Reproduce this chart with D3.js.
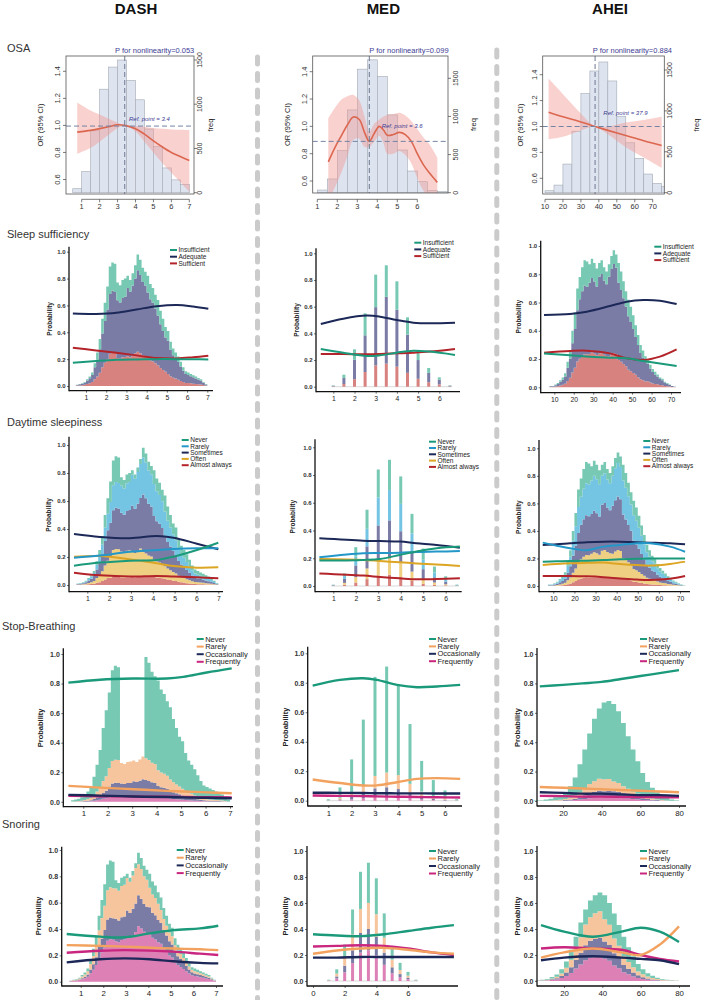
<!DOCTYPE html>
<html><head><meta charset="utf-8">
<script src="https://cdn.jsdelivr.net/npm/d3@7/dist/d3.min.js"></script>
<style>html,body{margin:0;padding:0;background:#fff;} svg text{font-family:"Liberation Sans",Arial,Helvetica,sans-serif;}</style>
</head><body>
<svg id="chart" width="709" height="1000"></svg>
<script>
// ================= DATA =================
const diets = ["DASH","MED","AHEI"];
const rowTitles = ["OSA","Sleep sufficiency","Daytime sleepiness","Stop-Breathing","Snoring"];

// ---- OSA (restricted cubic spline OR + frequency histogram) ----
const osaTicksOR = [0.6,0.8,1.0,1.2,1.4];
const osaTicksFreq = [0,500,1000,1500];
const osaBinDASH = {start:0.5, width:0.5};
const osaFreqDASH = [45,240,700,1170,1420,1500,1270,1050,720,520,280,145,95];
const osaBinMED = {start:1, width:0.5};
const osaFreqMED = [35,180,551,1085,1620,1742,1523,1020,560,284,144,26,13];
const osaBinAHEI = {start:10, width:5};
const osaFreqAHEI = [24,93,350,752,1211,1488,1598,1366,935,610,419,228,114,73];

const osaDASHx  = [0.75,1.5,2.0,2.5,3.0,3.4,4.0,4.5,5.0,5.5,6.0,6.5,7.0];
const osaDASHor = [0.95,0.963,0.976,0.99,1.005,1.0,0.976,0.935,0.885,0.84,0.80,0.77,0.74];
const osaDASHhi = [1.17,1.11,1.08,1.05,1.02,1.0,0.995,0.99,0.98,0.975,0.97,0.967,0.965];
const osaDASHlo = [0.79,0.835,0.88,0.93,0.98,1.0,0.955,0.88,0.80,0.72,0.65,0.58,0.51];

const osaMEDx  = [1.55,1.9,2.2,2.5,2.8,3.1,3.35,3.6,3.85,4.1,4.3,4.5,4.8,5.1,5.4,5.7,6.0,6.3,6.6,7.0];
const osaMEDor = [0.74,0.85,0.93,1.01,1.068,1.05,0.96,0.89,0.95,1.0,0.975,0.935,0.94,0.956,0.94,0.89,0.80,0.72,0.66,0.59];
const osaMEDhi = [1.06,1.14,1.195,1.22,1.23,1.19,1.08,0.96,1.02,1.05,1.07,1.085,1.09,1.1,1.08,1.04,0.98,0.92,0.87,0.77];
const osaMEDlo = [0.45,0.56,0.66,0.78,0.90,0.91,0.85,0.85,0.89,0.93,0.88,0.80,0.80,0.82,0.79,0.73,0.62,0.53,0.48,0.45];

const osaAHEIx  = [12,20,30,37.9,45,55,65,75];
const osaAHEIor = [1.11,1.075,1.035,1.0,0.97,0.93,0.89,0.854];
const osaAHEIhi = [1.37,1.25,1.1,1.0,1.0,1.03,1.05,1.075];
const osaAHEIlo = [0.90,0.92,0.97,1.0,0.94,0.84,0.76,0.68];

const osaRef     = {DASH:3.4, MED:3.6, AHEI:37.9};
const osaRefLine = {DASH:0.995, MED:0.89, AHEI:1.0};
const osaP       = {DASH:"0.053", MED:"0.099", AHEI:"0.884"};

// ---- score distributions (stacked histograms, scaled to max 1) ----
const histDASHbin = {start:0.5, width:0.125, group:4};
const histDASH = [0.01,0.015,0.02,0.03,0.05,0.07,0.10,0.17,0.25,0.35,0.50,0.62,0.74,0.89,0.92,0.91,0.77,0.75,0.79,0.80,0.82,0.79,0.84,0.90,0.98,0.94,0.88,0.85,0.82,0.76,0.73,0.68,0.64,0.56,0.50,0.44,0.41,0.33,0.28,0.25,0.22,0.18,0.14,0.11,0.10,0.09,0.08,0.07,0.06,0.05,0.03,0.015];
const histAHEIbin = {start:7.5, width:1.25, group:4};
const histAHEI = [0.01,0.01,0.02,0.03,0.05,0.07,0.10,0.18,0.26,0.40,0.53,0.70,0.78,0.85,0.90,0.89,0.87,0.91,0.88,0.84,0.88,0.90,0.85,0.82,0.87,0.93,0.97,0.94,0.88,0.82,0.75,0.68,0.62,0.57,0.51,0.44,0.37,0.30,0.26,0.22,0.20,0.16,0.13,0.11,0.09,0.07,0.06,0.04,0.03,0.02,0.01,0.005];
const histAHEI2bin = {start:5, width:2.5, group:2};
const histAHEIstop = [0.003,0.005,0.01,0.015,0.025,0.04,0.06,0.10,0.16,0.25,0.35,0.46,0.56,0.63,0.67,0.68,0.66,0.61,0.53,0.44,0.35,0.27,0.19,0.13,0.09,0.06,0.035,0.02,0.01,0.005];
const histAHEIsnore = [0.005,0.01,0.015,0.03,0.05,0.09,0.15,0.24,0.34,0.45,0.55,0.62,0.66,0.68,0.66,0.60,0.52,0.43,0.34,0.26,0.19,0.13,0.09,0.06,0.04,0.025,0.015,0.01,0.005,0.003];
const medX = [1,1.5,2,2.5,3,3.5,4,4.5,5,5.5,6,6.5];
const histMED = [0.01,0.09,0.28,0.55,0.84,0.91,0.79,0.52,0.27,0.14,0.07,0.01];

// ---- category shares per group of bins ----
const shareSleepDASH = {
  Sufficient:  [0.30,0.30,0.28,0.27,0.27,0.27,0.26,0.25,0.24,0.22,0.21,0.22,0.23],
  Adequate:    [0.52,0.52,0.50,0.50,0.56,0.62,0.62,0.60,0.58,0.60,0.60,0.59,0.57],
  Insufficient:[0.18,0.18,0.22,0.23,0.17,0.11,0.12,0.15,0.18,0.18,0.19,0.19,0.20]};
const shareDayDASH = {
  "Almost always":[0.09,0.09,0.08,0.07,0.07,0.07,0.07,0.07,0.07,0.07,0.06,0.06,0.06],
  Often:    [0.20,0.20,0.20,0.21,0.24,0.22,0.17,0.15,0.14,0.13,0.13,0.13,0.13],
  Sometimes:[0.36,0.36,0.35,0.32,0.36,0.40,0.42,0.38,0.34,0.32,0.30,0.28,0.26],
  Rarely:   [0.20,0.20,0.19,0.20,0.25,0.27,0.27,0.28,0.27,0.26,0.26,0.26,0.26],
  Never:    [0.15,0.15,0.18,0.20,0.08,0.04,0.07,0.12,0.18,0.22,0.25,0.27,0.29]};
const shareStopDASH = {
  Frequently:  [0.04,0.04,0.04,0.04,0.04,0.04,0.04,0.04,0.035,0.035,0.035,0.03,0.03],
  Occasionally:[0.06,0.07,0.08,0.10,0.12,0.13,0.11,0.09,0.08,0.07,0.06,0.05,0.05],
  Rarely:      [0.14,0.15,0.16,0.17,0.18,0.17,0.15,0.13,0.12,0.11,0.10,0.10,0.10],
  Never:       [0.76,0.74,0.72,0.69,0,0,0.70,0.74,0.765,0.785,0.805,0.82,0.82]};
const shareSnoreDASH = {
  Frequently:  [0.40,0.38,0.36,0.35,0.40,0.42,0.43,0.44,0.45,0.45,0.44,0.43,0.42],
  Occasionally:[0.15,0.16,0.17,0.18,0.22,0.24,0.24,0.25,0.25,0.24,0.22,0.20,0.18],
  Rarely:      [0.25,0.25,0.25,0.25,0.30,0.30,0.24,0.18,0.15,0.15,0.16,0.17,0.18],
  Never:       [0.20,0.21,0.22,0.22,0.08,0.04,0.09,0.13,0.15,0.16,0.18,0.20,0.22]};
const shareSleepMED = {
  Sufficient:  [0.25,0.22,0.20,0.20,0.19,0.19,0.19,0.20,0.22,0.24,0.25,0.25],
  Adequate:    [0.45,0.50,0.52,0.50,0.52,0.55,0.54,0.55,0.52,0.50,0.50,0.50],
  Insufficient:[0.30,0.28,0.28,0.30,0.29,0.26,0.27,0.25,0.26,0.26,0.25,0.25]};
const shareDayMED = {
  "Almost always":[0.10,0.10,0.09,0.09,0.09,0.09,0.08,0.07,0.06,0.06,0.06,0.06],
  Often:    [0.18,0.15,0.14,0.14,0.13,0.13,0.13,0.13,0.12,0.12,0.12,0.12],
  Sometimes:[0.33,0.32,0.30,0.29,0.30,0.30,0.29,0.28,0.27,0.27,0.27,0.27],
  Rarely:   [0.20,0.22,0.23,0.23,0.24,0.24,0.25,0.25,0.25,0.25,0.25,0.25],
  Never:    [0.19,0.21,0.24,0.25,0.24,0.24,0.25,0.27,0.30,0.30,0.30,0.30]};
const shareStopMED = {
  Frequently:  [0.04,0.04,0.03,0.03,0.03,0.03,0.03,0.03,0.03,0.03,0.03,0.03],
  Occasionally:[0.06,0.06,0.06,0.06,0.07,0.07,0.07,0.06,0.06,0.06,0.06,0.06],
  Rarely:      [0.12,0.12,0.11,0.10,0.10,0.11,0.12,0.13,0.14,0.14,0.14,0.14],
  Never:       [0.78,0.78,0.80,0.81,0.80,0.79,0.78,0.78,0.77,0.77,0.77,0.77]};
const shareSnoreMED = {
  Frequently:  [0.22,0.22,0.24,0.25,0.26,0.26,0.25,0.24,0.22,0.21,0.20,0.20],
  Occasionally:[0.17,0.17,0.18,0.18,0.18,0.18,0.18,0.18,0.17,0.17,0.17,0.17],
  Rarely:      [0.24,0.24,0.23,0.22,0.22,0.22,0.22,0.22,0.22,0.22,0.22,0.22],
  Never:       [0.37,0.37,0.35,0.35,0.34,0.34,0.35,0.36,0.39,0.40,0.41,0.41]};
const shareSleepAHEI = {
  Sufficient:  [0.25,0.25,0.26,0.26,0.27,0.27,0.25,0.22,0.20,0.19,0.21,0.24,0.26],
  Adequate:    [0.51,0.52,0.52,0.54,0.58,0.62,0.65,0.62,0.61,0.62,0.62,0.60,0.59],
  Insufficient:[0.24,0.23,0.22,0.20,0.15,0.11,0.10,0.16,0.19,0.19,0.17,0.16,0.15]};
const shareDayAHEI = {
  "Almost always":[0.07,0.07,0.07,0.07,0.07,0.07,0.06,0.06,0.05,0.05,0.05,0.06,0.07],
  Often:    [0.15,0.16,0.17,0.18,0.20,0.22,0.21,0.17,0.15,0.15,0.15,0.16,0.17],
  Sometimes:[0.30,0.30,0.31,0.32,0.33,0.38,0.40,0.36,0.33,0.31,0.31,0.30,0.30],
  Rarely:   [0.31,0.29,0.27,0.26,0.28,0.24,0.25,0.28,0.30,0.31,0.30,0.28,0.26],
  Never:    [0.17,0.18,0.18,0.17,0.12,0.09,0.08,0.13,0.17,0.18,0.19,0.20,0.20]};
const shareStopAHEI = {
  Frequently:  [0.04,0.04,0.04,0.04,0.04,0.04,0.04,0.04,0.04,0.04,0.04,0.04,0.04,0.04,0.04],
  Occasionally:[0.06,0.06,0.06,0.06,0.06,0.07,0.07,0.06,0.06,0.06,0.06,0.06,0.06,0.06,0.06],
  Rarely:      [0.10,0.10,0.11,0.12,0.13,0.14,0.13,0.12,0.10,0.09,0.08,0.08,0.08,0.08,0.08],
  Never:       [0.80,0.80,0.79,0.78,0.77,0.75,0.76,0.78,0.80,0.81,0.82,0.82,0.82,0.82,0.82]};
const shareSnoreAHEI = {
  Frequently:  [0.25,0.25,0.25,0.26,0.28,0.29,0.28,0.26,0.23,0.20,0.18,0.17,0.16,0.15,0.15],
  Occasionally:[0.16,0.17,0.18,0.18,0.20,0.21,0.21,0.20,0.18,0.16,0.16,0.15,0.14,0.13,0.13],
  Rarely:      [0.18,0.20,0.22,0.24,0.27,0.29,0.30,0.26,0.22,0.20,0.22,0.25,0.30,0.36,0.40],
  Never:       [0.41,0.38,0.35,0.32,0.25,0.21,0.21,0.28,0.37,0.44,0.44,0.43,0.40,0.36,0.32]};

// ---- smoothed predicted probability curves ----
const sleepDASHx = [0.35,1.5,2.5,3.5,4.5,5.5,6.3,7.05];
const sleepDASH = {Insufficient:[0.173,0.186,0.195,0.198,0.2,0.2,0.199,0.198],
  Adequate:[0.54,0.537,0.545,0.57,0.594,0.603,0.592,0.575],
  Sufficient:[0.284,0.265,0.247,0.228,0.208,0.205,0.214,0.225]};
const dayDASHx = [0.39,1.58,2.96,4.18,4.95,6.02,7.0];
const dayDASH = {Never:[0.138,0.16,0.174,0.179,0.202,0.25,0.302],
  Rarely:[0.195,0.21,0.238,0.25,0.257,0.262,0.262],
  Sometimes:[0.364,0.343,0.334,0.35,0.338,0.295,0.255],
  Often:[0.202,0.207,0.183,0.155,0.136,0.124,0.126],
  "Almost always":[0.088,0.069,0.06,0.064,0.06,0.055,0.048]};
const stopDASHx = [0.39,1.68,3.05,4.41,5.09,6.05,7.07];
const stopDASH = {Never:[0.806,0.826,0.834,0.834,0.845,0.875,0.903],
  Rarely:[0.108,0.096,0.085,0.074,0.07,0.064,0.058],
  Occasionally:[0.047,0.042,0.036,0.032,0.03,0.027,0.024],
  Frequently:[0.04,0.038,0.036,0.034,0.033,0.031,0.03]};
const snoreDASHx = [0.38,1.86,2.96,4.07,5.1,6.29,7.1];
const snoreDASH = {Never:[0.362,0.342,0.337,0.367,0.392,0.405,0.425],
  Rarely:[0.278,0.272,0.266,0.258,0.252,0.246,0.24],
  Occasionally:[0.147,0.17,0.177,0.17,0.155,0.143,0.139],
  Frequently:[0.22,0.235,0.24,0.236,0.228,0.213,0.203]};

const sleepMEDx = [0.41,1.47,2.58,3.2,3.99,4.77,5.56,6.74];
const sleepMED = {Insufficient:[0.283,0.255,0.23,0.235,0.255,0.27,0.263,0.238],
  Adequate:[0.47,0.51,0.533,0.525,0.5,0.48,0.475,0.48],
  Sufficient:[0.245,0.245,0.243,0.245,0.25,0.255,0.263,0.283]};
const dayMEDx = [0.38,2.33,3.08,3.96,4.7,5.6,6.63];
const dayMED = {Never:[0.183,0.188,0.195,0.224,0.248,0.272,0.284],
  Rarely:[0.207,0.236,0.238,0.24,0.245,0.248,0.252],
  Sometimes:[0.344,0.327,0.324,0.32,0.308,0.296,0.276],
  Often:[0.195,0.188,0.18,0.171,0.163,0.155,0.144],
  "Almost always":[0.091,0.075,0.065,0.055,0.048,0.05,0.055]};
const stopMEDx = [0.33,1.5,2.5,3.08,3.94,4.8,5.65,6.65];
const stopMED = {Never:[0.781,0.82,0.831,0.82,0.786,0.77,0.775,0.786],
  Rarely:[0.144,0.12,0.103,0.104,0.125,0.148,0.153,0.148],
  Occasionally:[0.054,0.053,0.052,0.051,0.05,0.05,0.049,0.049],
  Frequently:[0.035,0.033,0.031,0.029,0.027,0.025,0.023,0.022]};
const snoreMEDx = [0.0,1.5,3.0,4.5,6.0,7.5,8.9];
const snoreMED = {Never:[0.36,0.35,0.345,0.36,0.385,0.41,0.43],
  Rarely:[0.21,0.235,0.25,0.255,0.24,0.22,0.21],
  Occasionally:[0.18,0.18,0.185,0.185,0.185,0.185,0.185],
  Frequently:[0.265,0.27,0.275,0.27,0.25,0.22,0.20]};

const sleepAHEIx = [4.7,18.1,26.7,38.6,47.2,55.8,64.3,72.9];
const sleepAHEI = {Insufficient:[0.24,0.227,0.218,0.21,0.205,0.186,0.169,0.15],
  Adequate:[0.512,0.519,0.535,0.575,0.606,0.618,0.613,0.589],
  Sufficient:[0.245,0.257,0.259,0.24,0.205,0.193,0.217,0.268]};
const dayAHEIx = [5,11.6,17.9,25.8,33.7,41.6,49.5,55.8,65.3,72.4];
const dayAHEI = {Never:[0.177,0.179,0.181,0.184,0.188,0.194,0.197,0.2,0.2,0.2],
  Rarely:[0.315,0.293,0.274,0.26,0.286,0.298,0.31,0.31,0.286,0.249],
  Sometimes:[0.298,0.303,0.31,0.318,0.322,0.322,0.318,0.315,0.31,0.303],
  Often:[0.153,0.16,0.165,0.168,0.17,0.16,0.152,0.148,0.16,0.177],
  "Almost always":[0.073,0.073,0.073,0.07,0.064,0.055,0.047,0.044,0.053,0.073]};
const stopAHEIx = [8,20,30,40,50,60,70,80];
const stopAHEI = {Never:[0.78,0.79,0.80,0.81,0.83,0.85,0.87,0.89],
  Rarely:[0.095,0.09,0.085,0.08,0.075,0.07,0.065,0.06],
  Occasionally:[0.06,0.055,0.05,0.05,0.045,0.04,0.04,0.035],
  Frequently:[0.035,0.033,0.03,0.03,0.028,0.027,0.026,0.025]};
const snoreAHEIx = [8,20,35,50,60,70,80];
const snoreAHEI = {Never:[0.43,0.38,0.34,0.38,0.41,0.38,0.30],
  Rarely:[0.18,0.22,0.25,0.22,0.20,0.28,0.42],
  Occasionally:[0.16,0.18,0.19,0.18,0.17,0.16,0.13],
  Frequently:[0.25,0.26,0.25,0.24,0.20,0.17,0.15]};

const probTicks = [0,0.2,0.4,0.6,0.8,1.0];
const catsSleep = ["Insufficient","Adequate","Sufficient"];
const catsDay = ["Never","Rarely","Sometimes","Often","Almost always"];
const catsSB = ["Never","Rarely","Occasionally","Frequently"];

// ================= STYLE / LAYOUT =================
const lineSleep = {Insufficient:"#1b9a7b", Adequate:"#1c2857", Sufficient:"#b3242a"};
const fillSleep = {Insufficient:"#78c9b3", Adequate:"#7b7ca6", Sufficient:"#d8827f"};
const lineDay = {Never:"#1b9a7b", Rarely:"#2497c9", Sometimes:"#1c2857", Often:"#dca523", "Almost always":"#b3242a"};
const fillDay = {Never:"#78c9b3", Rarely:"#74c4e3", Sometimes:"#7b7ca6", Often:"#efcf82", "Almost always":"#d8827f"};
const lineSB = {Never:"#1b9a7b", Rarely:"#f2a25e", Occasionally:"#1c2857", Frequently:"#c9267f"};
const fillSB = {Never:"#78c9b3", Rarely:"#f6c59d", Occasionally:"#7b7ca6", Frequently:"#dc80b6"};

const svg = d3.select("#chart");

function txt(g, x, y, s, o) {
  o = o || {};
  const t = g.append("text").attr("x", x).attr("y", y).text(s)
    .attr("font-size", o.fs || 8).attr("fill", o.fill || "#222")
    .attr("text-anchor", o.anchor || "start");
  if (o.weight) t.attr("font-weight", o.weight);
  if (o.style) t.attr("font-style", o.style);
  if (o.rot) t.attr("transform", `rotate(${o.rot},${x},${y})`);
  return t;
}

// titles
const titleX = {DASH:136, MED:383.3, AHEI:610};
diets.forEach(d => txt(svg, titleX[d], 13.5, d, {fs:15, weight:"bold", anchor:"middle", fill:"#111"}));
const rowTitlePos = [[7,52],[7,238],[7,426],[2,630],[2,828]];
rowTitles.forEach((t,i) => txt(svg, rowTitlePos[i][0], rowTitlePos[i][1], t, {fs:11, fill:"#333"}));

// separators
[[257.5,57],[496.8,50]].forEach(s => svg.append("line")
  .attr("x1", s[0]).attr("x2", s[0]).attr("y1", s[1]).attr("y2", 1000)
  .attr("stroke", "#cbcbcb").attr("stroke-width", 5)
  .attr("stroke-dasharray", "7,9.5").attr("stroke-linecap", "round"));

// ================= OSA PANELS =================
const osaGeo = {
  DASH:{box:[66,194,56,194], xCal:[1,81.7,7,189.3], orCal:[0.6,179.5,1.4,71.3], frCal:[0,192.7,1500,60],
        xTicks:[1,2,3,4,5,6,7], axisY:199.3, pX:115, refTxt:[129,121], frLabX:202, frTitleX:213, orTitleX:43},
  MED:{box:[312.7,448,56,193], xCal:[1,317.3,6,417.3], orCal:[0.6,181,1.4,71.7], frCal:[0,192.7,1500,78.3],
        xTicks:[1,2,3,4,5,6], axisY:199.3, pX:369.3, refTxt:[381.7,128], frLabX:458, frTitleX:476, orTitleX:290},
  AHEI:{box:[542.7,664.3,56,194], xCal:[10,545,70,652.7], orCal:[0.6,178.3,1.4,74.7], frCal:[0,192.7,1500,70],
        xTicks:[10,20,30,40,50,60,70], axisY:199.3, pX:592.7, refTxt:[603.3,115], frLabX:672, frTitleX:699, orTitleX:523}
};
const osaData = {
  DASH:{bin:osaBinDASH, freq:osaFreqDASH, x:osaDASHx, or:osaDASHor, lo:osaDASHlo, hi:osaDASHhi},
  MED:{bin:osaBinMED, freq:osaFreqMED, x:osaMEDx, or:osaMEDor, lo:osaMEDlo, hi:osaMEDhi},
  AHEI:{bin:osaBinAHEI, freq:osaFreqAHEI, x:osaAHEIx, or:osaAHEIor, lo:osaAHEIlo, hi:osaAHEIhi}
};

function drawOSA(d) {
  const geo = osaGeo[d], data = osaData[d];
  const g = svg.append("g");
  const [bl, br, bt, bb] = geo.box;
  const x = d3.scaleLinear().domain([geo.xCal[0], geo.xCal[2]]).range([geo.xCal[1], geo.xCal[3]]);
  const y = d3.scaleLinear().domain([geo.orCal[0], geo.orCal[2]]).range([geo.orCal[1], geo.orCal[3]]);
  const yf = d3.scaleLinear().domain([geo.frCal[0], geo.frCal[2]]).range([geo.frCal[1], geo.frCal[3]]);
  const cid = "clipOSA" + d;
  g.append("clipPath").attr("id", cid).append("rect")
    .attr("x", bl).attr("y", bt).attr("width", br - bl).attr("height", bb - bt);
  const inner = g.append("g").attr("clip-path", `url(#${cid})`);
  const e = i => data.bin.start + i * data.bin.width;
  inner.selectAll("rect").data(data.freq).join("rect")
    .attr("x", (v,i) => x(e(i))).attr("width", (v,i) => x(e(i+1)) - x(e(i)))
    .attr("y", v => yf(v)).attr("height", v => yf(0) - yf(v))
    .attr("fill", "#dde4f0").attr("stroke", "#a3a9b3").attr("stroke-width", 0.6);
  const pts = data.x.map((xx,i) => ({x:xx, or:data.or[i], lo:data.lo[i], hi:data.hi[i]}));
  inner.append("path")
    .attr("d", d3.area().curve(d3.curveCatmullRom).x(p => x(p.x)).y0(p => y(p.lo)).y1(p => y(p.hi))(pts))
    .attr("fill", "#f29a92").attr("fill-opacity", 0.45);
  inner.append("path")
    .attr("d", d3.line().curve(d3.curveCatmullRom).x(p => x(p.x)).y(p => y(p.or))(pts))
    .attr("fill", "none").attr("stroke", "#dc6750").attr("stroke-width", 1.6);
  inner.append("line").attr("x1", bl).attr("x2", br).attr("y1", y(osaRefLine[d])).attr("y2", y(osaRefLine[d]))
    .attr("stroke", "#7383a3").attr("stroke-width", 1).attr("stroke-dasharray", "5,3");
  inner.append("line").attr("x1", x(osaRef[d])).attr("x2", x(osaRef[d])).attr("y1", bt).attr("y2", bb)
    .attr("stroke", "#6f7890").attr("stroke-width", 1).attr("stroke-dasharray", "5,3");
  g.append("rect").attr("x", bl).attr("y", bt).attr("width", br - bl).attr("height", bb - bt)
    .attr("fill", "none").attr("stroke", "#555").attr("stroke-width", 0.8);
  osaTicksOR.forEach(v => {
    g.append("line").attr("x1", bl).attr("x2", bl - 3).attr("y1", y(v)).attr("y2", y(v)).attr("stroke", "#444").attr("stroke-width", 0.7);
    txt(g, bl - 6, y(v), d3.format(".1f")(v), {fs:7.5, anchor:"middle", rot:-90, fill:"#333"});
  });
  txt(g, geo.orTitleX, (bt + bb) / 2, "OR (95% CI)", {fs:7.5, anchor:"middle", rot:-90, fill:"#222"});
  osaTicksFreq.forEach(v => {
    g.append("line").attr("x1", br).attr("x2", br + 3).attr("y1", yf(v)).attr("y2", yf(v)).attr("stroke", "#444").attr("stroke-width", 0.7);
    txt(g, geo.frLabX, yf(v), String(v), {fs:7, anchor:"middle", rot:-90, fill:"#333"});
  });
  txt(g, geo.frTitleX, (bt + bb) / 2, "freq", {fs:7.5, anchor:"middle", rot:-90, fill:"#222"});
  const t0 = geo.xTicks[0], t1 = geo.xTicks[geo.xTicks.length - 1];
  g.append("line").attr("x1", x(t0)).attr("x2", x(t1)).attr("y1", geo.axisY).attr("y2", geo.axisY).attr("stroke", "#444").attr("stroke-width", 0.7);
  geo.xTicks.forEach(v => {
    g.append("line").attr("x1", x(v)).attr("x2", x(v)).attr("y1", geo.axisY).attr("y2", geo.axisY + 3).attr("stroke", "#444").attr("stroke-width", 0.7);
    txt(g, x(v), geo.axisY + 10, String(v), {fs:7.5, anchor:"middle", fill:"#333"});
  });
  txt(g, geo.pX, 52.5, "P for nonlinearity=" + osaP[d], {fs:7.5, fill:"#3d3d94"});
  txt(g, geo.refTxt[0], geo.refTxt[1], "Ref. point = " + osaRef[d], {fs:6, style:"italic", fill:"#3d3d94"});
}
diets.forEach(drawOSA);

// ================= PROBABILITY PANELS =================
const probGeo = {
  "sleep-DASH":{ax:69, xEnd:213, yTop:246.7, py0:386, py1:251.7, xCal:[1,86,7,207.3], xTicks:[1,2,3,4,5,6,7], axisY:390.7, leg:[170,250,6.7], fs:6.5, ylabX:52, lw:2},
  "sleep-MED":{ax:316, xEnd:460, yTop:248.3, py0:386.7, py1:253.3, xCal:[1,333.3,6,439.3], xTicks:[1,2,3,4,5,6], axisY:391.7, leg:[414.3,242.7,6.7], fs:6.5, ylabX:299, lw:2},
  "sleep-AHEI":{ax:540.7, xEnd:681, yTop:240.7, py0:387.3, py1:246, xCal:[10,554.3,70,671], xTicks:[10,20,30,40,50,60,70], axisY:392.7, leg:[654.3,246.7,6.7], fs:6.5, ylabX:521, lw:2},
  "day-DASH":{ax:69, xEnd:223, yTop:436.7, py0:585, py1:445, xCal:[1,87.3,7,218.3], xTicks:[1,2,3,4,5,6,7], axisY:591.7, leg:[181.7,440,6.3], fs:6.5, ylabX:51, lw:2},
  "day-MED":{ax:315, xEnd:461.7, yTop:439.3, py0:586, py1:447.3, xCal:[1,333.3,6,445.7], xTicks:[1,2,3,4,5,6], axisY:591.7, leg:[429,441.7,6.3], fs:6.5, ylabX:295, lw:2},
  "day-AHEI":{ax:539, xEnd:690, yTop:440, py0:586, py1:448.3, xCal:[10,553.3,70,680], xTicks:[10,20,30,40,50,60,70], axisY:591.7, leg:[643.3,441,6.3], fs:6.5, ylabX:521, lw:2},
  "stop-DASH":{ax:63.3, xEnd:233, yTop:648.3, py0:801.8, py1:654, xCal:[1,83.3,7,230], xTicks:[1,2,3,4,5,6,7], axisY:806.7, leg:[196.7,639,7.6], fs:7.5, ylabX:43, lw:2.4},
  "stop-MED":{ax:307.7, xEnd:462, yTop:646.7, py0:800.7, py1:653.3, xCal:[1,328.3,6,445], xTicks:[1,2,3,4,5,6], axisY:806, leg:[429,639,7.4], fs:7.5, ylabX:288, lw:2.4},
  "stop-AHEI":{ax:537, xEnd:686, yTop:648, py0:801, py1:654, xCal:[20,563,80,679], xTicks:[20,40,60,80], axisY:806, leg:[640,639,7.4], fs:7.5, ylabX:520, lw:2.4},
  "snore-DASH":{ax:61.7, xEnd:223, yTop:846.7, py0:981.7, py1:850, xCal:[1,80.7,7,216], xTicks:[1,2,3,4,5,6,7], axisY:986, leg:[176.7,850,7.7], fs:7.5, ylabX:41, lw:2.4},
  "snore-MED":{ax:307, xEnd:458, yTop:846, py0:981, py1:851, xCal:[0,313,6,408], xTicks:[0,2,4,6], axisY:986, leg:[429,851,7.5], fs:7.5, ylabX:288, lw:2.4},
  "snore-AHEI":{ax:537, xEnd:690, yTop:846, py0:981, py1:851, xCal:[20,564,80,679], xTicks:[20,40,60,80], axisY:986, leg:[640,851,7.5], fs:7.5, ylabX:520, lw:2.4}
};

const probCfg = {
  "sleep-DASH":{cats:catsSleep, line:lineSleep, fill:fillSleep, hist:{kind:"step", total:histDASH, bin:histDASHbin, share:shareSleepDASH}, cx:sleepDASHx, cy:sleepDASH},
  "sleep-MED":{cats:catsSleep, line:lineSleep, fill:fillSleep, hist:{kind:"spike", total:histMED, xs:medX, share:shareSleepMED}, cx:sleepMEDx, cy:sleepMED},
  "sleep-AHEI":{cats:catsSleep, line:lineSleep, fill:fillSleep, hist:{kind:"step", total:histAHEI, bin:histAHEIbin, share:shareSleepAHEI}, cx:sleepAHEIx, cy:sleepAHEI},
  "day-DASH":{cats:catsDay, line:lineDay, fill:fillDay, hist:{kind:"step", total:histDASH, bin:histDASHbin, share:shareDayDASH}, cx:dayDASHx, cy:dayDASH},
  "day-MED":{cats:catsDay, line:lineDay, fill:fillDay, hist:{kind:"spike", total:histMED, xs:medX, share:shareDayMED}, cx:dayMEDx, cy:dayMED},
  "day-AHEI":{cats:catsDay, line:lineDay, fill:fillDay, hist:{kind:"step", total:histAHEI, bin:histAHEIbin, share:shareDayAHEI}, cx:dayAHEIx, cy:dayAHEI},
  "stop-DASH":{cats:catsSB, line:lineSB, fill:fillSB, hist:{kind:"step", total:histDASH, bin:histDASHbin, share:shareStopDASH}, cx:stopDASHx, cy:stopDASH},
  "stop-MED":{cats:catsSB, line:lineSB, fill:fillSB, hist:{kind:"spike", total:histMED, xs:medX, share:shareStopMED}, cx:stopMEDx, cy:stopMED},
  "stop-AHEI":{cats:catsSB, line:lineSB, fill:fillSB, hist:{kind:"step", total:histAHEIstop, bin:histAHEI2bin, share:shareStopAHEI}, cx:stopAHEIx, cy:stopAHEI},
  "snore-DASH":{cats:catsSB, line:lineSB, fill:fillSB, hist:{kind:"step", total:histDASH, bin:histDASHbin, share:shareSnoreDASH}, cx:snoreDASHx, cy:snoreDASH},
  "snore-MED":{cats:catsSB, line:lineSB, fill:fillSB, hist:{kind:"spike", total:histMED, xs:medX, share:shareSnoreMED}, cx:snoreMEDx, cy:snoreMED},
  "snore-AHEI":{cats:catsSB, line:lineSB, fill:fillSB, hist:{kind:"step", total:histAHEIsnore, bin:histAHEI2bin, share:shareSnoreAHEI}, cx:snoreAHEIx, cy:snoreAHEI}
};

function drawProb(key) {
  const geo = probGeo[key], cfg = probCfg[key];
  const g = svg.append("g");
  const x = d3.scaleLinear().domain([geo.xCal[0], geo.xCal[2]]).range([geo.xCal[1], geo.xCal[3]]);
  const y = d3.scaleLinear().domain([0, 1]).range([geo.py0, geo.py1]);
  const stackOrder = cfg.cats.slice().reverse();
  const h = cfg.hist;
  const n = h.total.length;
  let base = new Array(n).fill(0);
  if (h.kind === "spike") {
    g.append("line").attr("x1", x(h.xs[0]) - 2).attr("x2", x(h.xs[n-1]) + 2)
      .attr("y1", y(0)).attr("y2", y(0)).attr("stroke", "#cfcfcf").attr("stroke-width", 0.8);
  }
  stackOrder.forEach(c => {
    const top = h.total.map((t,i) => base[i] + t * h.share[c][h.kind === "step" ? Math.floor(i / h.bin.group) : i]);
    if (h.kind === "step") {
      const pts = [];
      for (let i = 0; i < n; i++) pts.push({x:h.bin.start + i * h.bin.width, lo:base[i], hi:top[i]});
      pts.push({x:h.bin.start + n * h.bin.width, lo:base[n-1], hi:top[n-1]});
      g.append("path").attr("d", d3.area().curve(d3.curveStepAfter).x(p => x(p.x)).y0(p => y(p.lo)).y1(p => y(p.hi))(pts))
        .attr("fill", cfg.fill[c]);
    } else {
      const lo = base.slice();
      g.append("g").selectAll("rect").data(top).join("rect")
        .attr("x", (v,i) => x(h.xs[i]) - 1.5).attr("width", 3)
        .attr("y", v => y(v)).attr("height", (v,i) => Math.max(0, y(lo[i]) - y(v)))
        .attr("fill", cfg.fill[c]);
    }
    base = top;
  });
  cfg.cats.slice().reverse().forEach(c => {
    const pts = cfg.cx.map((xx,i) => [xx, cfg.cy[c][i]]);
    g.append("path").attr("d", d3.line().curve(d3.curveCatmullRom).x(p => x(p[0])).y(p => y(p[1]))(pts))
      .attr("fill", "none").attr("stroke", cfg.line[c]).attr("stroke-width", geo.lw).attr("stroke-linecap", "butt");
  });
  const gy = g.append("g").attr("transform", `translate(${geo.ax},0)`)
    .call(d3.axisLeft(y).tickValues(probTicks).tickFormat(d3.format(".1f")).tickSize(2).tickPadding(1.5));
  gy.select(".domain").remove();
  gy.selectAll("text").attr("font-size", geo.fs - 0.5).attr("font-weight", "bold").attr("fill", "#333")
    .attr("font-family", "'Liberation Sans', Arial, sans-serif");
  gy.selectAll("line").attr("stroke", "#333").attr("stroke-width", 0.7);
  const gx = g.append("g").attr("transform", `translate(0,${geo.axisY})`)
    .call(d3.axisBottom(x).tickValues(geo.xTicks).tickFormat(d3.format("d")).tickSize(2).tickPadding(2));
  gx.select(".domain").remove();
  gx.selectAll("text").attr("font-size", geo.fs + 0.3).attr("fill", "#222")
    .attr("font-family", "'Liberation Sans', Arial, sans-serif");
  gx.selectAll("line").attr("stroke", "#333").attr("stroke-width", 0.7);
  g.append("line").attr("x1", geo.ax).attr("x2", geo.ax).attr("y1", geo.yTop).attr("y2", geo.axisY + 0.6)
    .attr("stroke", "#111").attr("stroke-width", 1.3);
  g.append("line").attr("x1", geo.ax).attr("x2", geo.xEnd).attr("y1", geo.axisY).attr("y2", geo.axisY)
    .attr("stroke", "#111").attr("stroke-width", 1.3);
  txt(g, geo.ylabX, (geo.py0 + geo.py1) / 2, "Probability", {fs:geo.fs, weight:"bold", anchor:"middle", rot:-90, fill:"#222"});
  cfg.cats.forEach((c,i) => {
    const ly = geo.leg[1] + i * geo.leg[2];
    g.append("line").attr("x1", geo.leg[0]).attr("x2", geo.leg[0] + 7).attr("y1", ly).attr("y2", ly)
      .attr("stroke", cfg.line[c]).attr("stroke-width", 2);
    txt(g, geo.leg[0] + 8.5, ly + geo.fs * 0.35, c, {fs:geo.fs, fill:"#222"});
  });
}
Object.keys(probGeo).forEach(drawProb);
</script>
</body></html>
